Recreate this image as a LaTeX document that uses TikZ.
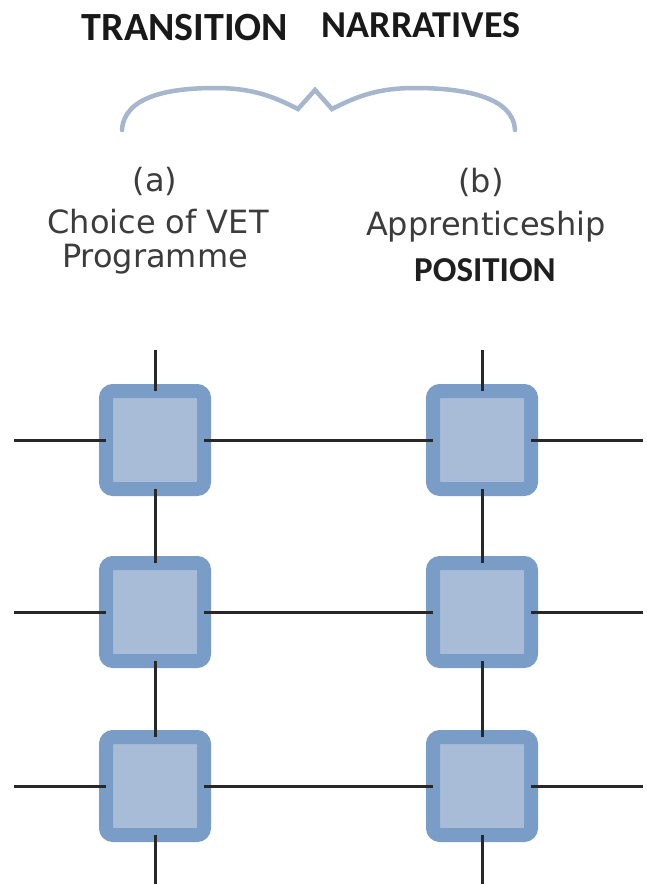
\documentclass[tikz,border=0pt]{standalone}
\usepackage{fontspec}
\setmainfont{DejaVu Sans}
\newfontfamily\calfont{Carlito}
\definecolor{boxedge}{RGB}{122,157,200}
\definecolor{boxfill}{RGB}{168,188,216}
\definecolor{bracecol}{RGB}{165,182,205}
\definecolor{gridcol}{RGB}{40,40,40}
\definecolor{txtcol}{RGB}{60,60,60}
\tikzset{
  cell/.style={draw=boxedge, fill=boxfill, line width=14pt, rounded corners=7pt,
    minimum width=98pt, minimum height=98pt, inner sep=0pt, outer sep=0pt},
  gridline/.style={draw=gridcol, line width=3pt},
  head/.style={anchor=base, inner sep=0pt, font=\calfont\bfseries, text=black!90},
  lbl/.style={anchor=base, inner sep=0pt, font=\fontsize{32}{36}\selectfont, text=txtcol},
}
\begin{document}
\begin{tikzpicture}[x=1pt,y=-1pt]
\useasboundingbox[fill=white] (0,0) rectangle (646,884);
% headings
\node[head, font=\calfont\bfseries\fontsize{40}{44}\selectfont] (t1) at (185,40) {TRANSITION};
\node[head, font=\calfont\bfseries\fontsize{38}{42}\selectfont] (t2) at (421,37) {NARRATIVES};
% brace
\draw[bracecol, line width=4.5pt, line cap=round, line join=miter]
  (122,130) .. controls (124,96) and (170,88) .. (215,88)
  .. controls (255,88) and (276,98) .. (298,109) -- (315,90) -- (332,109)
  .. controls (354,98) and (375,88) .. (415,88)
  .. controls (462,88) and (513,96) .. (515,130);
% labels
\node[lbl] (la) at (155,191) {(a)};
\node[lbl] (lb) at (158,233) {Choice of VET};
\node[lbl] (lc) at (155,267) {Programme};
\node[lbl] (ra) at (481,192) {(b)};
\node[lbl] (rb) at (486,235) {Apprenticeship};
\node[head, font=\calfont\bfseries\fontsize{35}{40}\selectfont, text=black!88] (rc) at (485,281) {POSITION};
% boxes
\node[cell] (a1) at (155,440) {};
\node[cell] (a2) at (155,612) {};
\node[cell] (a3) at (155,786) {};
\node[cell] (b1) at (482,440) {};
\node[cell] (b2) at (482,612) {};
\node[cell] (b3) at (482,786) {};
% grid end points
\coordinate (vt1) at (155,350);
\coordinate (vb1) at (155,884);
\coordinate (vt2) at (482,350);
\coordinate (vb2) at (482,884);
\coordinate (h1l) at (14,440);
\coordinate (h1r) at (643,440);
\coordinate (h2l) at (14,612);
\coordinate (h2r) at (643,612);
\coordinate (h3l) at (14,786);
\coordinate (h3r) at (643,786);
% connectors
\draw[gridline] (vt1) -- (a1) (a1) -- (a2) (a2) -- (a3) (a3) -- (vb1);
\draw[gridline] (vt2) -- (b1) (b1) -- (b2) (b2) -- (b3) (b3) -- (vb2);
\draw[gridline] (h1l) -- (a1) (a1) -- (b1) (b1) -- (h1r);
\draw[gridline] (h2l) -- (a2) (a2) -- (b2) (b2) -- (h2r);
\draw[gridline] (h3l) -- (a3) (a3) -- (b3) (b3) -- (h3r);
\end{tikzpicture}
\end{document}
